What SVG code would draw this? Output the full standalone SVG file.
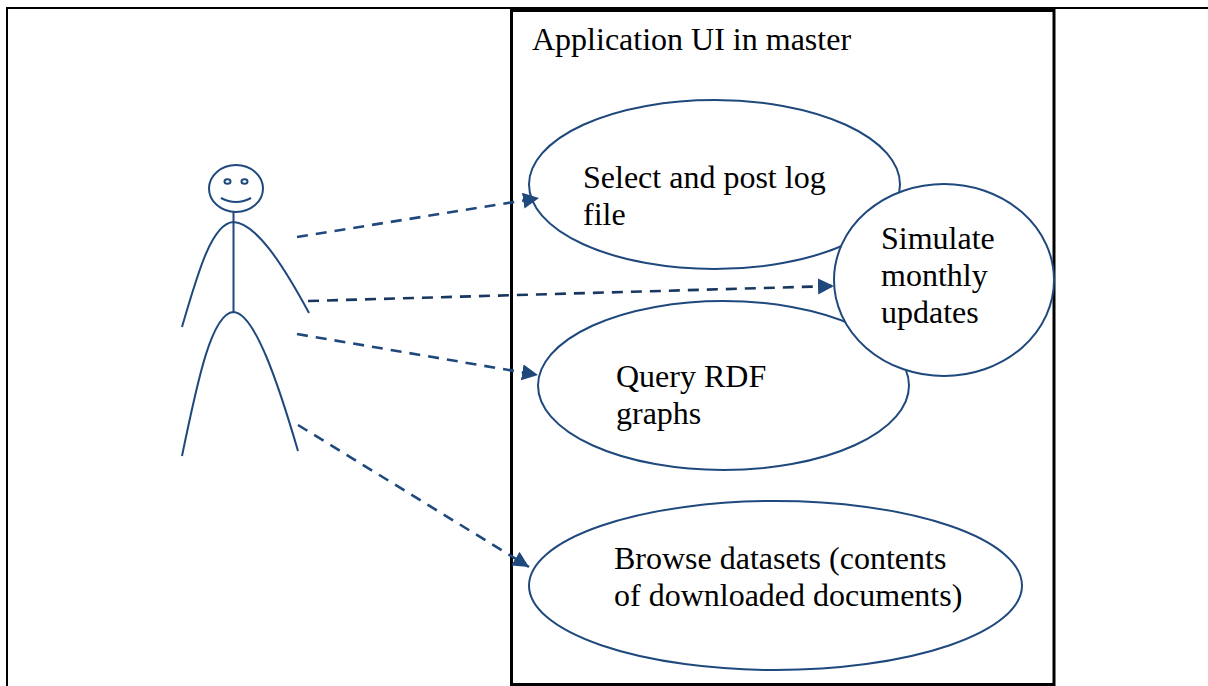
<svg xmlns="http://www.w3.org/2000/svg" width="1208" height="686" viewBox="0 0 1208 686">
<defs><marker id="a" markerUnits="userSpaceOnUse" markerWidth="18" markerHeight="17" refX="16" refY="8" orient="auto"><path d="M0 0L16 8L0 16Z" fill="#1f497d"/></marker></defs>
<style>
.s{fill:none;stroke:#1f497d;stroke-width:2}
.e{fill:#fff;stroke:#1f497d;stroke-width:2}
.c{fill:none;stroke:#1f497d;stroke-width:2.600;stroke-dasharray:11 8;marker-end:url(#a)}
text{font-family:"Liberation Serif",serif;font-size:32px;fill:#000}
</style>
<rect width="1208" height="686" fill="#fff"/>
<path d="M7 686V8H1208" fill="none" stroke="#000" stroke-width="2"/>
<rect id="boundary" x="511.500" y="10.500" width="542.500" height="674" fill="#fff" stroke="#000" stroke-width="3"/>
<text x="532" y="50">Application UI in master</text>
<g id="actor" class="actor">
<ellipse class="s" cx="236" cy="188.500" rx="27" ry="23.500"/>
<ellipse class="s" cx="227.500" cy="181.500" rx="3" ry="2.200"/>
<ellipse class="s" cx="244.500" cy="181.500" rx="3" ry="2.200"/>
<path class="s" d="M221 198Q236 206 251 198"/>
<path class="s" d="M233.500 212V312"/>
<path class="s" d="M182 327C198 272 212 223 233.500 222C255 223 281 261 309 313"/>
<path class="s" d="M182 456C198 378 212 313 233.500 312C255 313 279 386 298 451"/>
</g>
<g id="node-select"><ellipse class="e" cx="714.500" cy="184.500" rx="185.500" ry="84.500"/><text x="583" y="188">Select and post log</text><text x="583" y="225">file</text></g>
<g id="node-query"><ellipse class="e" cx="723.500" cy="385.500" rx="185.500" ry="84.500"/><text x="616" y="387">Query RDF</text><text x="616" y="424">graphs</text></g>
<g id="node-browse"><ellipse class="e" cx="775.500" cy="585.500" rx="246.500" ry="84.500"/><text x="614" y="569">Browse datasets (contents</text><text x="614" y="606">of downloaded documents)</text></g>
<g id="node-simulate"><ellipse class="e" cx="944" cy="280" rx="110" ry="96"/><text x="881" y="249">Simulate</text><text x="881" y="286">monthly</text><text x="881" y="323">updates</text></g>
<g id="connectors">
<path class="c" d="M297 237L539 198"/>
<path class="c" d="M308 301L834 286" style="stroke:#17375e"/>
<path class="c" d="M297 334L538 375"/>
<path class="c" d="M298 425L529 567"/>
</g>
</svg>
